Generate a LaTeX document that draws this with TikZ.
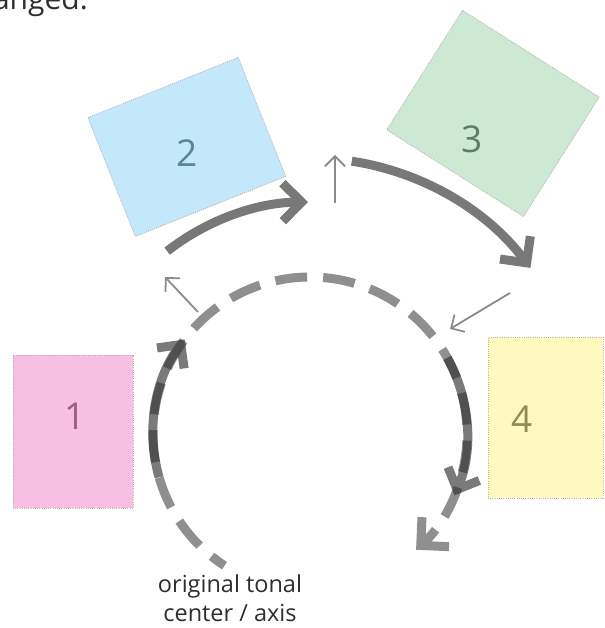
\documentclass[tikz,border=0pt]{standalone}
\usepackage{fontspec}
\setmainfont{Open Sans}
\usetikzlibrary{arrows.meta}
\definecolor{pinkbox}{HTML}{F7BFE1}
\definecolor{bluebox}{HTML}{C2E8F9}
\definecolor{greenbox}{HTML}{CDE9D3}
\definecolor{yellowbox}{HTML}{FFF9C0}
\definecolor{pinktext}{HTML}{9E5F86}
\definecolor{bluetext}{HTML}{5A8597}
\definecolor{greentext}{HTML}{5E7E64}
\definecolor{yellowtext}{HTML}{8F8B58}
\definecolor{boxborder}{HTML}{B4B4B4}
\definecolor{dashgray}{HTML}{8F8F8F}
\definecolor{arrowgray}{HTML}{787878}
\definecolor{darkarrow}{HTML}{2A2A2A}
\definecolor{thingray}{HTML}{8A8A8A}
\definecolor{textgray}{HTML}{2E2E2E}
\begin{document}
\begin{tikzpicture}[x=1pt,y=1pt,
  box/.style={draw=boxborder, line width=0.8pt, dash pattern=on 1pt off 1.2pt, inner sep=0pt},
  numlabel/.style={font=\fontsize{37}{40}\selectfont, inner sep=0pt},
  thickarrow/.style={line width=9pt, draw=arrowgray, -{Straight Barb[length=19pt,width=38pt]}},
  darkarc/.style={line width=9pt, draw=darkarrow, -{Straight Barb[length=17pt,width=34pt]}},
  thinarrow/.style={line width=1.8pt, draw=thingray, -{Straight Barb[length=10pt,width=20pt]}},
  circdash/.style={line width=9pt, draw=dashgray, dash pattern=on 32pt off 16pt, dash phase=16pt,
    -{Straight Barb[length=20pt,width=40pt]}},
]
\useasboundingbox (0,0) rectangle (604,628);

% boxes
\node[box, fill=pinkbox, minimum width=120pt, minimum height=153pt] (b1) at (73,196.5) {};
\node[box, fill=bluebox, minimum width=162pt, minimum height=128pt, rotate=21.8] (b2) at (186.75,481) {};
\node[box, fill=greenbox, minimum width=162pt, minimum height=141.5pt, rotate=-32.4] (b3) at (493,514.5) {};
\node[box, fill=yellowbox, minimum width=115pt, minimum height=161pt] (b4) at (545.5,210.5) {};

\node[numlabel, text=pinktext] (n1) at (75,212) {1};
\node[numlabel, text=bluetext] (n2) at (187.5,474.5) {2};
\node[numlabel, text=greentext] (n3) at (472.5,489) {3};
\node[numlabel, text=yellowtext] (n4) at (522.5,209) {4};

% big dashed circle
\coordinate (C) at (310,194);
\coordinate (cstart) at ([shift={(237:157pt)}]C);
\draw[circdash] (cstart) arc[start angle=237, end angle=-47.5, radius=157pt];

% dark overlaid arcs
\coordinate (lstart) at ([shift={(196:157pt)}]C);
\coordinate (rstart) at ([shift={(29:157pt)}]C);
\begin{scope}[transparency group, opacity=0.625]
\draw[darkarc] (lstart) arc[start angle=196, end angle=143, radius=157pt];
\end{scope}
\begin{scope}[transparency group, opacity=0.625]
\draw[darkarc] (rstart) arc[start angle=29, end angle=-23, radius=157pt];
\end{scope}

% thick solid arrows
\coordinate (astart) at ([shift={(128:232pt)}]C);
\coordinate (bstart) at ([shift={(81.3:276pt)}]C);
\draw[thickarrow] (astart) arc[start angle=128, end angle=90.5, radius=232pt];
\draw[thickarrow] (bstart) arc[start angle=81.3, end angle=37, radius=276pt];

% thin arrows
\coordinate (t1s) at (198,316);
\coordinate (t1e) at (165,351);
\coordinate (t2s) at (335,425);
\coordinate (t2e) at (335,473);
\coordinate (t3s) at (510,335);
\coordinate (t3e) at (450,299);
\draw[thinarrow] (t1s) -- (t1e);
\draw[thinarrow] (t2s) -- (t2e);
\draw[thinarrow] (t3s) -- (t3e);

% texts
\node[anchor=base, align=center, text=textgray, font=\fontsize{23.5}{29}\selectfont, inner sep=0pt] (cap) at (230,6) {original tonal\\center / axis};
\node[anchor=base east, text=textgray, font=\fontsize{30}{36}\selectfont, inner sep=0pt] (top) at (88,618.5) {anged.};
\end{tikzpicture}
\end{document}
